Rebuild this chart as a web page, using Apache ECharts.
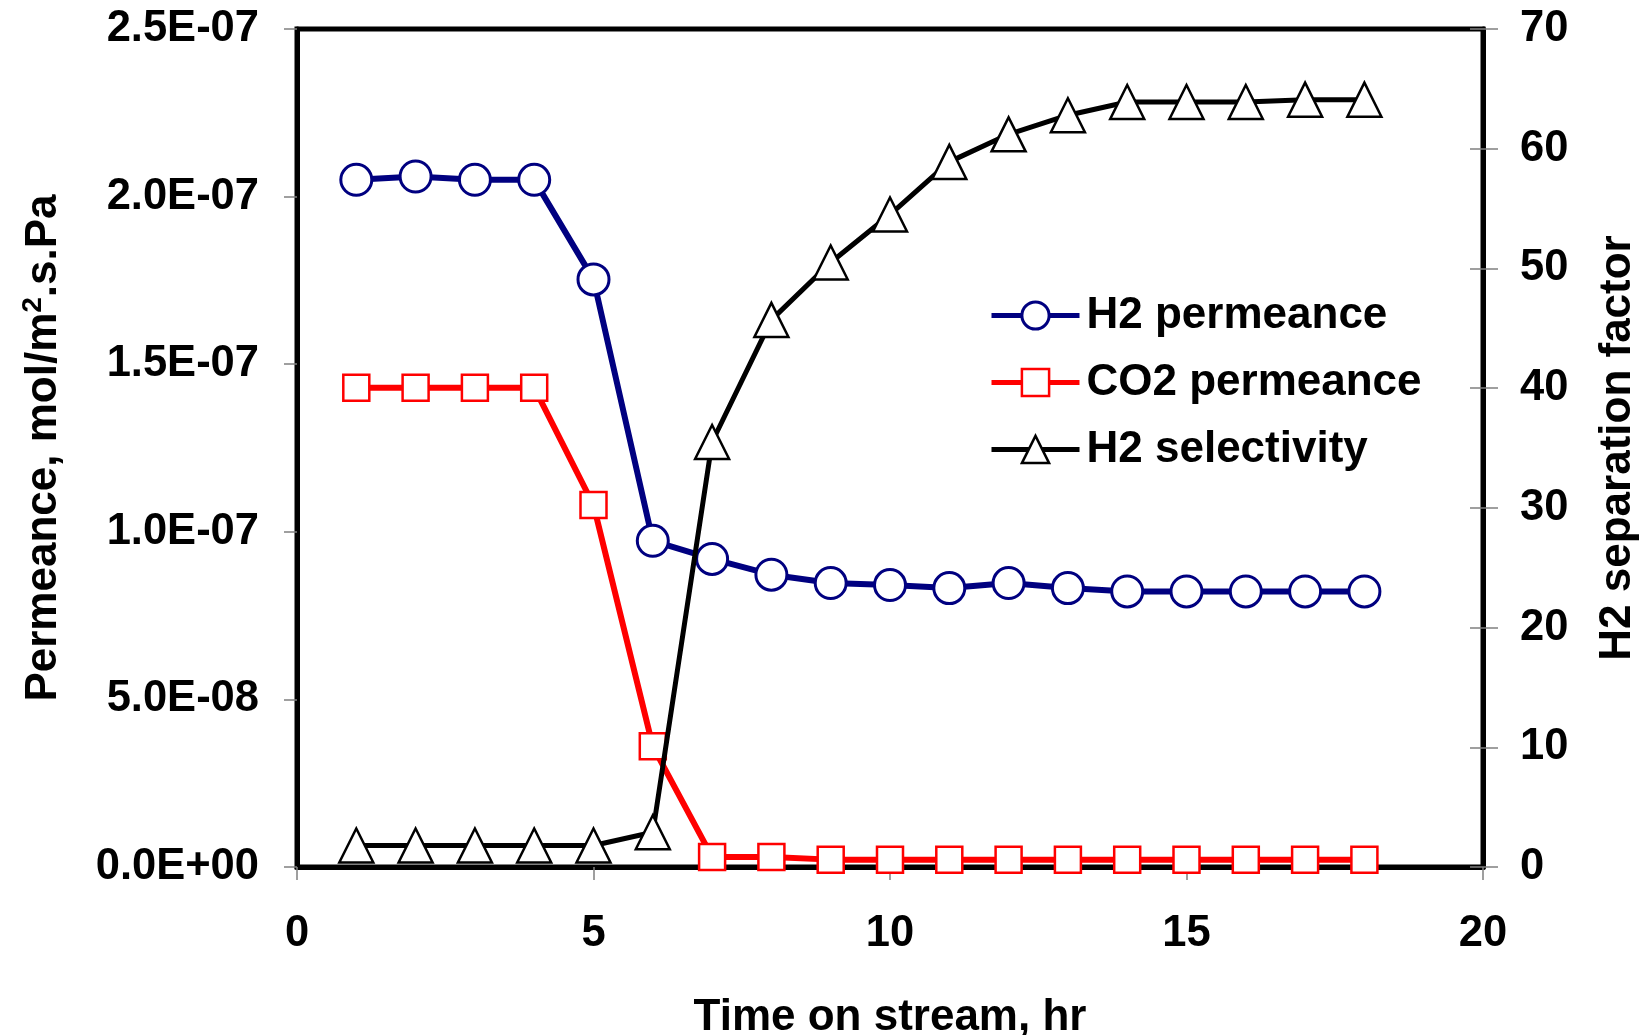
<!DOCTYPE html>
<html>
<head>
<meta charset="utf-8">
<script src="https://cdn.jsdelivr.net/npm/echarts@6/dist/echarts.min.js"></script>
<style>
  html, body { margin: 0; padding: 0; background: #fff; }
  #chart { width: 1644px; height: 1035px; }
</style>
</head>
<body>
<div id="chart"></div>
<script>
// ---- data ----
const timeHr = [1, 2, 3, 4, 5, 6, 7, 8, 9, 10, 11, 12, 13, 14, 15, 16, 17, 18];
const h2Permeance = [2.05e-7, 2.06e-7, 2.05e-7, 2.05e-7, 1.753e-7, 0.973e-7, 0.919e-7, 0.872e-7, 0.847e-7, 0.841e-7, 0.832e-7, 0.847e-7, 0.832e-7, 0.822e-7, 0.822e-7, 0.822e-7, 0.822e-7, 0.822e-7];
const co2Permeance = [1.43e-7, 1.43e-7, 1.43e-7, 1.43e-7, 1.08e-7, 0.36e-7, 0.03e-7, 0.03e-7, 0.022e-7, 0.022e-7, 0.022e-7, 0.022e-7, 0.022e-7, 0.022e-7, 0.022e-7, 0.022e-7, 0.022e-7, 0.022e-7];
const h2Selectivity = [1.8, 1.8, 1.8, 1.8, 1.8, 2.9, 35.5, 45.7, 50.5, 54.5, 58.9, 61.2, 62.8, 63.9, 63.9, 63.9, 64.1, 64.1];
const leftTickLabels = ['0.0E+00', '5.0E-08', '1.0E-07', '1.5E-07', '2.0E-07', '2.5E-07'];
const rightTickLabels = ['0', '10', '20', '30', '40', '50', '60', '70'];
const xTickLabels = ['0', '5', '10', '15', '20'];
const seriesNames = ['H2 permeance', 'CO2 permeance', 'H2 selectivity'];

const FONT = "'Liberation Sans', Arial, sans-serif";
const pair = (xs, ys) => xs.map((x, i) => [x, ys[i]]);

const chart = echarts.init(document.getElementById('chart'), null, { renderer: 'canvas' });
const tickStyle = { color: '#808080', width: 1.5 };
const labelStyle = { color: '#000', fontSize: 43.5, fontWeight: 'bold', fontFamily: FONT };
const titleStyle = { color: '#000', fontSize: 44, fontWeight: 'bold', fontFamily: FONT };

chart.setOption({
  animation: false,
  backgroundColor: '#fff',
  grid: {
    left: 297, top: 29, width: 1186, height: 838,
    containLabel: false, outerBoundsMode: 'none',
    show: true, borderColor: '#000', borderWidth: 5, backgroundColor: 'transparent'
  },
  legend: {
    orient: 'vertical',
    left: 989,
    top: 293,
    padding: 0,
    itemWidth: 88,
    itemHeight: 34,
    itemGap: 22,
    data: seriesNames,
    lineStyle: { width: 5 },
    itemStyle: { borderWidth: 'inherit' },
    textStyle: { color: '#000', fontSize: 44, fontWeight: 'bold', fontFamily: FONT, lineHeight: 45, padding: [0, 0, 0, 2] }
  },
  xAxis: {
    type: 'value',
    min: 0, max: 20, interval: 5,
    name: 'Time on stream, hr',
    nameLocation: 'middle',
    nameGap: 129,
    nameTextStyle: titleStyle,
    axisLine: { show: true, onZero: false, lineStyle: { color: '#000', width: 5 } },
    axisTick: { show: true, inside: false, length: 13, lineStyle: tickStyle },
    axisLabel: Object.assign({ margin: 45, formatter: v => xTickLabels[Math.round(v / 5)] }, labelStyle),
    splitLine: { show: false }
  },
  yAxis: [
    {
      type: 'value',
      position: 'left',
      min: 0, max: 2.5e-7, interval: 5e-8,
      name: '{a|Permeance, mol/m}{s|2}{a|.s.Pa}',
      nameLocation: 'middle',
      nameRotate: 90,
      nameGap: 228,
      nameTextStyle: {
        color: '#000', fontSize: 44, fontWeight: 'bold', fontFamily: FONT,
        rich: {
          a: { color: '#000', fontSize: 44, fontWeight: 'bold', fontFamily: FONT, lineHeight: 50 },
          s: { color: '#000', fontSize: 28, fontWeight: 'bold', fontFamily: FONT, lineHeight: 28, verticalAlign: 'top' }
        }
      },
      axisLine: { show: true, onZero: false, lineStyle: { color: '#000', width: 5 } },
      axisTick: { show: true, inside: false, length: 13, lineStyle: tickStyle },
      axisLabel: Object.assign({ margin: 38, formatter: v => leftTickLabels[Math.round(v / 5e-8)] }, labelStyle),
      splitLine: { show: false }
    },
    {
      type: 'value',
      position: 'right',
      min: 0, max: 70, interval: 10,
      name: 'H2 separation factor',
      nameLocation: 'middle',
      nameRotate: 90,
      nameGap: 113,
      nameTextStyle: titleStyle,
      axisLine: { show: true, onZero: false, lineStyle: { color: '#000', width: 5 } },
      axisTick: { show: true, inside: false, length: 15, lineStyle: tickStyle },
      axisLabel: Object.assign({ margin: 37, formatter: v => rightTickLabels[Math.round(v / 10)] }, labelStyle),
      splitLine: { show: false }
    },
    {
      type: 'value',
      position: 'right',
      min: 0, max: 70, interval: 10,
      axisLine: { show: false, onZero: false },
      axisTick: { show: true, inside: true, length: 13, lineStyle: tickStyle },
      axisLabel: { show: false },
      splitLine: { show: false }
    }
  ],
  series: [
    {
      name: seriesNames[0],
      type: 'line',
      yAxisIndex: 0,
      data: pair(timeHr, h2Permeance),
      symbol: 'circle',
      symbolSize: 31,
      lineStyle: { color: '#000080', width: 6 },
      itemStyle: { color: '#fff', borderColor: '#000080', borderWidth: 3 },
      z: 3
    },
    {
      name: seriesNames[1],
      type: 'line',
      yAxisIndex: 0,
      data: pair(timeHr, co2Permeance),
      symbol: 'rect',
      symbolSize: 26,
      lineStyle: { color: '#ff0000', width: 6 },
      itemStyle: { color: '#fff', borderColor: '#ff0000', borderWidth: 2.5 },
      z: 4
    },
    {
      name: seriesNames[2],
      type: 'line',
      yAxisIndex: 1,
      data: pair(timeHr, h2Selectivity),
      symbol: 'triangle',
      symbolSize: 34,
      lineStyle: { color: '#000', width: 5 },
      itemStyle: { color: '#fff', borderColor: '#000', borderWidth: 2.5 },
      z: 5
    }
  ]
});
</script>
</body>
</html>
